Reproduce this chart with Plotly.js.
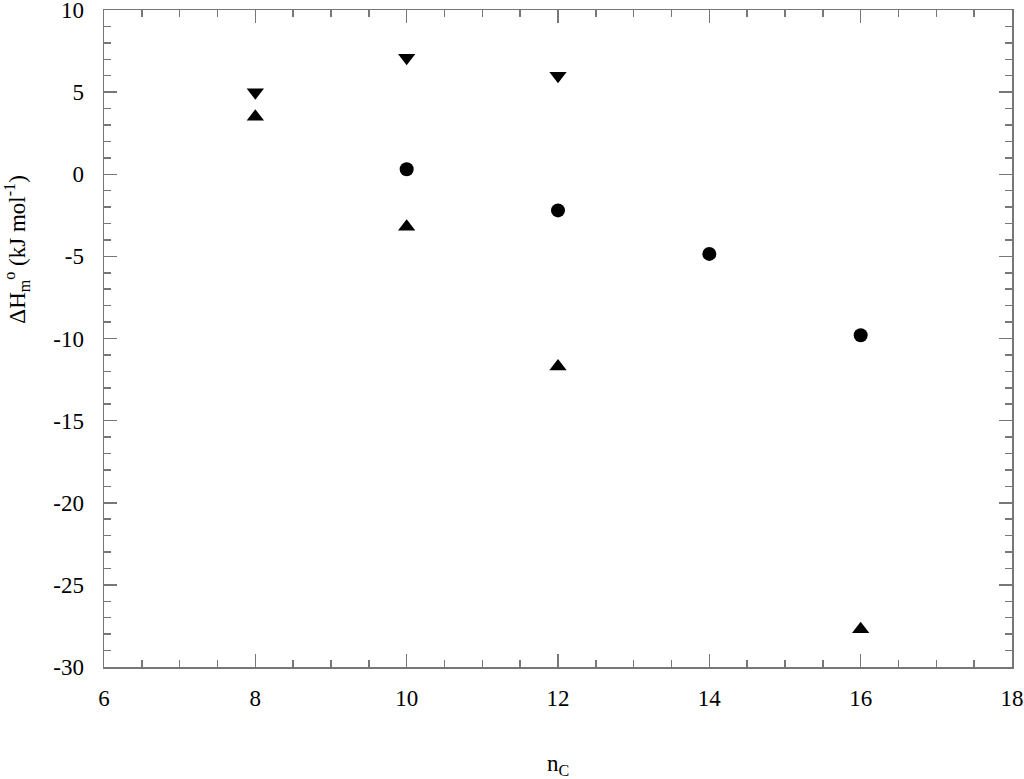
<!DOCTYPE html>
<html>
<head>
<meta charset="utf-8">
<script src="https://cdn.plot.ly/plotly-3.0.1.min.js"></script>
<style>
  html, body { margin: 0; padding: 0; background: #fff; }
  #plot { width: 1024px; height: 779px; }
</style>
</head>
<body>
<div id="plot"></div>
<script>
  // carbon number and enthalpy values, three series
  var circX = [10, 12, 14, 16];
  var circY = [0.3, -2.2, -4.85, -9.8];

  var upX = [8, 10, 12, 16];
  var upY = [3.5, -3.2, -11.7, -27.7];

  var downX = [8, 10, 12];
  var downY = [5.0, 7.1, 6.0];

  var xTicks = [6, 8, 10, 12, 14, 16, 18];
  var yTicks = [-30, -25, -20, -15, -10, -5, 0, 5, 10];
  var yTickText = ['-30', '-25', '-20', '-15', '-10', '-5', '0', '5', '10'];

  var axisColor = '#777';
  var font = {family: 'Liberation Serif', size: 23, color: '#000'};

  function series(x, y, sym, size) {
    return {
      type: 'scatter', mode: 'markers', x: x, y: y,
      marker: {symbol: sym, size: size, color: '#000'},
      showlegend: false
    };
  }

  var data = [
    series(circX, circY, 'circle', 14),
    series(upX, upY, 'triangle-up', 15),
    series(downX, downY, 'triangle-down', 15)
  ];

  var layout = {
    width: 1024, height: 779,
    margin: {l: 104, r: 12, t: 10, b: 112},
    paper_bgcolor: '#fff', plot_bgcolor: '#fff',
    font: font,
    xaxis: {
      range: [6, 18], tickvals: xTicks,
      showgrid: false, zeroline: false,
      showline: true, linecolor: axisColor, linewidth: 1.5, mirror: 'ticks',
      ticks: 'inside', ticklen: 13, tickwidth: 1.5, tickcolor: axisColor,
      minor: {dtick: 0.5, ticks: 'inside', ticklen: 7, tickwidth: 1.5, tickcolor: axisColor},
      ticklabelstandoff: 10,
      tickfont: font,
      title: {text: 'n<sub>C</sub>', font: font, standoff: 48}
    },
    yaxis: {
      range: [-30, 10.0001], tickvals: yTicks, ticktext: yTickText,
      showgrid: false, zeroline: false,
      showline: true, linecolor: axisColor, linewidth: 1.5, mirror: 'ticks',
      ticks: 'inside', ticklen: 13, tickwidth: 1.5, tickcolor: axisColor,
      minor: {dtick: 1, ticks: 'inside', ticklen: 7, tickwidth: 1.5, tickcolor: axisColor},
      ticklabelstandoff: 14,
      ticklabeloverflow: 'allow',
      tickfont: font
    },
    annotations: [{
      text: '\u0394H<sub>m</sub><sup>o</sup> (kJ mol<sup>-1</sup>)',
      xref: 'paper', yref: 'paper', x: -0.096, y: 0.635,
      xanchor: 'center', yanchor: 'middle', textangle: -90,
      showarrow: false, font: font
    }]
  };

  Plotly.newPlot('plot', data, layout, {displayModeBar: false, staticPlot: true});
</script>
</body>
</html>
